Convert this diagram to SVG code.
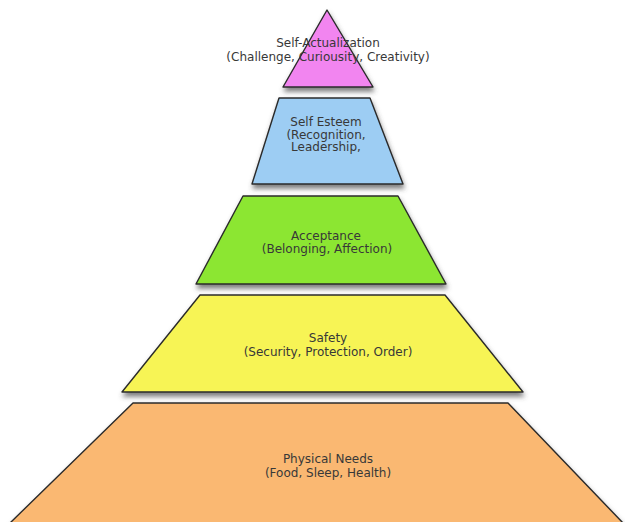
<svg xmlns="http://www.w3.org/2000/svg" width="625" height="522" viewBox="0 0 625 522">
<defs>
<filter id="sh" x="-10%" y="-10%" width="120%" height="130%">
<feDropShadow dx="1" dy="4" stdDeviation="2.5" flood-color="#444" flood-opacity="0.7"/>
</filter>
</defs>
<style>
.lvl{stroke:#2a2a2a;stroke-width:1.4;stroke-linejoin:round;filter:url(#sh)}
text{font-family:"DejaVu Sans","Liberation Sans",sans-serif;font-size:12px;fill:#383838;text-anchor:middle}
</style>
<rect width="625" height="522" fill="#fff"/>
<g id="physical">
<polygon class="lvl" points="133,403 508,403 623,523 10,523" fill="#FAB872"/>
<text x="328" y="462.5">Physical Needs</text>
<text x="328" y="476.5">(Food, Sleep, Health)</text>
</g>
<g id="safety">
<polygon class="lvl" points="200,295 445,295 523,392 122,392" fill="#F7F455"/>
<text x="328" y="341.5">Safety</text>
<text x="328" y="355.5">(Security, Protection, Order)</text>
</g>
<g id="acceptance">
<polygon class="lvl" points="243,196 398,196 446,284 196,284" fill="#8CE632"/>
<text x="326" y="239.5">Acceptance</text>
<text x="327" y="252.5">(Belonging, Affection)</text>
</g>
<g id="esteem">
<polygon class="lvl" points="279,98 370,98 403,184 252,184" fill="#9DCDF3"/>
<text x="326" y="126">Self Esteem</text>
<text x="326" y="138.5">(Recognition,</text>
<text x="326" y="151">Leadership,</text>
</g>
<g id="actualization">
<polygon class="lvl" points="327,10 373,87 283,87" fill="#F285F0"/>
<text x="328" y="47">Self-Actualization</text>
<text x="328" y="61">(Challenge, Curiousity, Creativity)</text>
</g>
</svg>
